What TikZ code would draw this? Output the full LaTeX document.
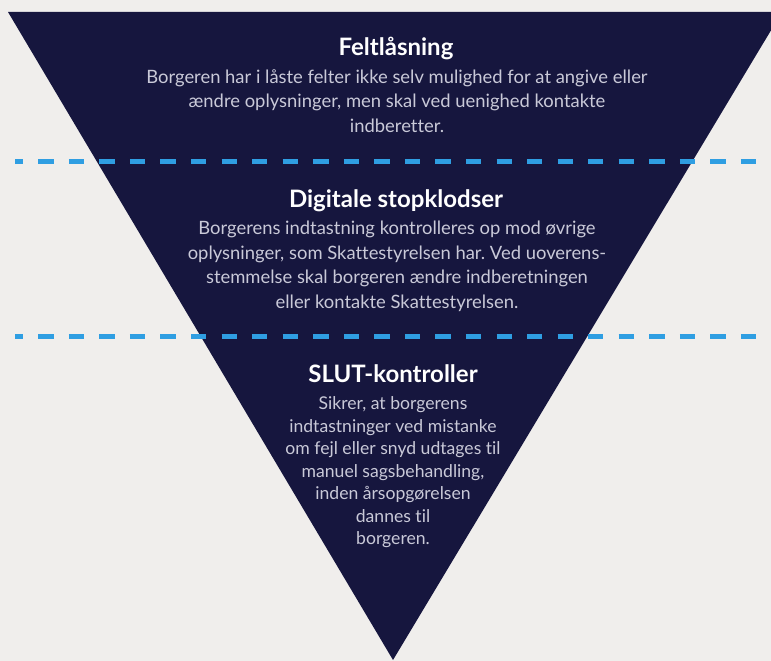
\documentclass[tikz,border=0pt]{standalone}
\usepackage{fontspec}
\setmainfont[Ligatures={NoCommon}]{Lato}
\frenchspacing
\definecolor{bg}{HTML}{F0EEEC}
\definecolor{navy}{HTML}{16163E}
\definecolor{dashblue}{HTML}{2F9EE2}
\definecolor{bodytxt}{HTML}{C9C9D8}
\tikzset{
  ttl/.style={text=white, font=\fontsize{24}{28}\selectfont\bfseries, inner sep=0pt, anchor=base},
  bodytext/.style={text=bodytxt, font=\fontsize{18.4}{24.5}\selectfont, align=center, inner sep=0pt, anchor=north},
  bodytight/.style={bodytext, font=\fontsize{17.6}{22.5}\selectfont},
  sep/.style={dashblue, line width=5pt, dash pattern=on 15.3pt off 15.25pt, dash phase=7.3pt}
}
\begin{document}
\begin{tikzpicture}[x=1pt,y=-1pt]
\useasboundingbox (0,0) rectangle (771,661);
\fill[bg] (0,0) rectangle (771,661);
\begin{scope}
\clip (0,0) rectangle (771,661);
\fill[navy] (8,12) coordinate (tl) -- (782,12) coordinate (tr) -- (393,660) coordinate (apex) -- cycle;
\coordinate (d1a) at (15,161);
\coordinate (d1b) at (775,161);
\coordinate (d2a) at (15,336);
\coordinate (d2b) at (775,336);
\draw[sep] (d1a) -- (d1b);
\draw[sep] (d2a) -- (d2b);
\end{scope}
\node[ttl] (t1) at (396,56) {Feltlåsning};
\node[bodytext] (b1) at (397,69) {Borgeren har i låste felter ikke selv mulighed for at angive eller\\ændre oplysninger, men skal ved uenighed kontakte\\indberetter.};
\node[ttl] (t2) at (396,207) {Digitale stopklodser};
\node[bodytext] (b2) at (397,221) {Borgerens indtastning kontrolleres op mod øvrige\\oplysninger, som Skattestyrelsen har. Ved uoverens-\\stemmelse skal borgeren ændre indberetningen\\eller kontakte Skattestyrelsen.};
\node[ttl] (t3) at (393,382) {SLUT-kontroller};
\node[bodytight] (b3) at (393,396.5) {Sikrer, at borgerens\\indtastninger ved mistanke\\om fejl eller snyd udtages til\\manuel sagsbehandling,\\inden årsopgørelsen\\dannes til\\borgeren.};
\end{tikzpicture}
\end{document}
